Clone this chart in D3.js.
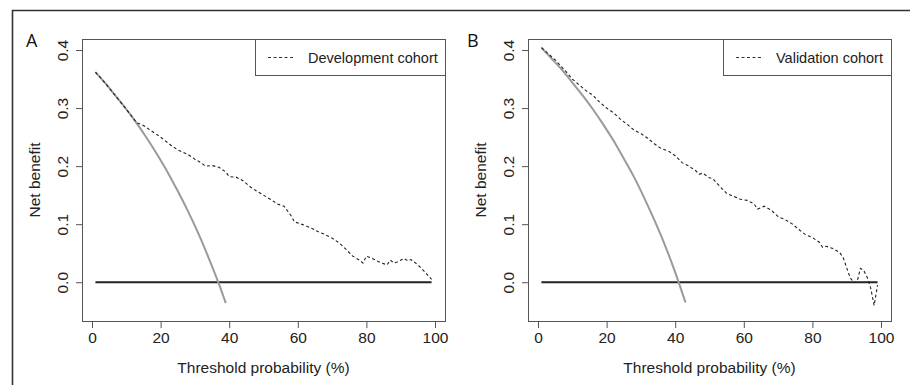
<!DOCTYPE html>
<html lang="en">
<head>
<meta charset="UTF-8">
<title>Decision curves</title>
<script src="https://cdn.jsdelivr.net/npm/d3@7"></script>
<style>
  body { margin: 0; background: #fff; }
  svg { display: block; font-family: "Liberation Sans", Arial, sans-serif; }
</style>
</head>
<body>
<div id="chart"></div>
<script>
// threshold probabilities (%) and net benefit values
const xTicks = [0, 20, 40, 60, 80, 100];
const yTicks = [0.0, 0.1, 0.2, 0.3, 0.4];

// Panel A - development cohort
const devAllX = [1, 4, 7, 10, 13, 16, 19, 22, 25, 28, 31, 34, 37, 39];
const devAllY = [0.362, 0.342, 0.320, 0.298, 0.274, 0.248, 0.220, 0.190, 0.157, 0.122, 0.084, 0.042, -0.003, -0.036];
const devModelX = [1, 4, 7, 10, 13, 15, 18, 20, 23, 25, 28, 30, 32, 33, 35, 37, 39, 40, 42, 44, 46, 48, 50, 52, 54, 56, 58, 59, 62, 64, 66, 68, 70, 72, 74, 76, 78, 79, 80, 82, 84, 86, 87, 88, 89, 91, 92, 93, 95, 97, 99];
const devModelY = [0.362, 0.342, 0.320, 0.298, 0.275, 0.270, 0.258, 0.250, 0.236, 0.228, 0.220, 0.212, 0.205, 0.200, 0.201, 0.198, 0.190, 0.182, 0.181, 0.175, 0.165, 0.157, 0.150, 0.143, 0.135, 0.131, 0.115, 0.104, 0.098, 0.093, 0.087, 0.082, 0.076, 0.068, 0.057, 0.045, 0.038, 0.033, 0.045, 0.040, 0.034, 0.030, 0.038, 0.033, 0.035, 0.041, 0.037, 0.039, 0.030, 0.018, 0.005];

// Panel B - validation cohort
const valAllX = [1, 4, 7, 10, 13, 16, 19, 22, 25, 28, 31, 34, 37, 40, 43];
const valAllY = [0.404, 0.385, 0.366, 0.344, 0.322, 0.298, 0.272, 0.244, 0.213, 0.181, 0.145, 0.106, 0.064, 0.017, -0.035];
const valModelX = [1, 5, 8, 10, 12, 14, 16, 18, 20, 22, 24, 26, 28, 30, 32, 34, 36, 38, 40, 42, 44, 46, 47, 48, 50, 51, 53, 55, 57, 59, 61, 63, 64, 66, 68, 70, 72, 74, 76, 78, 80, 82, 83, 84, 86, 88, 89, 90, 91, 92, 93, 94, 95, 96, 97, 98, 99];
const valModelY = [0.404, 0.383, 0.364, 0.350, 0.340, 0.330, 0.322, 0.310, 0.300, 0.292, 0.281, 0.272, 0.262, 0.256, 0.248, 0.238, 0.230, 0.226, 0.218, 0.206, 0.200, 0.192, 0.186, 0.188, 0.180, 0.178, 0.165, 0.153, 0.148, 0.143, 0.141, 0.135, 0.126, 0.131, 0.124, 0.113, 0.108, 0.101, 0.091, 0.082, 0.077, 0.069, 0.060, 0.062, 0.058, 0.051, 0.042, 0.025, 0.008, 0.000, 0.000, 0.024, 0.020, 0.008, -0.010, -0.040, -0.005];

const noneX = [1, 99];
const noneY = [0, 0];

const W = 910, H = 385;
const svg = d3.select("#chart").append("svg")
    .attr("width", W)
    .attr("height", H);

// outer frame (left and top edges only are visible)
svg.append("path")
    .attr("d", `M12.5,${H} V10.5 H${W}`)
    .attr("fill", "none")
    .attr("stroke", "#333")
    .attr("stroke-width", 1.6);

function zip(xs, ys) {
    return xs.map((x, i) => ({ x: x, y: ys[i] }));
}

function drawPanel(p) {
    const x = d3.scaleLinear().domain([-2.92, 102.92]).range([p.left, p.right]);
    const y = d3.scaleLinear().domain([-0.0668, 0.419]).range([321, 39]);
    const g = svg.append("g");

    // plot box
    g.append("rect")
        .attr("x", p.left + 0.5)
        .attr("y", 39.5)
        .attr("width", p.right - p.left)
        .attr("height", 321 - 39)
        .attr("fill", "none")
        .attr("stroke", "#555")
        .attr("stroke-width", 1);

    // axes
    const xAxis = g.append("g")
        .attr("transform", "translate(0,321)")
        .call(d3.axisBottom(x).tickValues(xTicks).tickSize(7).tickPadding(4).tickFormat(d3.format("d")));
    xAxis.select(".domain").remove();
    xAxis.selectAll("line").attr("stroke", "#555");
    xAxis.selectAll("text")
        .attr("font-size", "15.5px")
        .attr("font-family", "Liberation Sans, Arial, sans-serif")
        .attr("fill", "#222");

    const yAxis = g.append("g")
        .attr("transform", `translate(${p.left},0)`)
        .call(d3.axisLeft(y).tickValues(yTicks).tickSize(6).tickFormat(d3.format(".1f")));
    yAxis.select(".domain").remove();
    yAxis.selectAll("line").attr("stroke", "#555");
    yAxis.selectAll("text")
        .attr("x", null).attr("dy", null)
        .attr("transform", `translate(-14,0) rotate(-90)`)
        .attr("text-anchor", "middle")
        .attr("font-size", "15.5px")
        .attr("font-family", "Liberation Sans, Arial, sans-serif")
        .attr("fill", "#222");

    // axis titles
    g.append("text")
        .attr("x", (x(0) + x(100)) / 2)
        .attr("y", 373)
        .attr("text-anchor", "middle")
        .attr("font-size", "15.5px")
        .attr("fill", "#222")
        .text("Threshold probability (%)");
    g.append("text")
        .attr("transform", `translate(${p.left - 42},180) rotate(-90)`)
        .attr("text-anchor", "middle")
        .attr("font-size", "15.5px")
        .attr("fill", "#222")
        .text("Net benefit");

    // panel letter
    g.append("text")
        .attr("x", p.letterX)
        .attr("y", 47)
        .attr("font-size", "18px")
        .attr("font-family", "Open Sans, Liberation Sans, sans-serif")
        .attr("fill", "#111")
        .text(p.letter);

    const line = d3.line().x(d => x(d.x)).y(d => y(d.y));
    const smooth = d3.line().x(d => x(d.x)).y(d => y(d.y)).curve(d3.curveMonotoneX);

    // treat none
    g.append("path")
        .datum(zip(noneX, noneY))
        .attr("d", line)
        .attr("fill", "none")
        .attr("stroke", "#222")
        .attr("stroke-width", 2);

    // treat all
    g.append("path")
        .datum(zip(p.allX, p.allY))
        .attr("d", smooth)
        .attr("fill", "none")
        .attr("stroke", "#9a9a9a")
        .attr("stroke-width", 2);

    // model
    g.append("path")
        .datum(zip(p.modelX, p.modelY))
        .attr("d", line)
        .attr("fill", "none")
        .attr("stroke", "#222")
        .attr("stroke-width", 1.1)
        .attr("stroke-dasharray", "3,2.5");

    // legend
    g.append("rect")
        .attr("x", p.legLeft + 0.5)
        .attr("y", 39.5)
        .attr("width", p.right - p.legLeft)
        .attr("height", 36)
        .attr("fill", "#fff")
        .attr("stroke", "#555")
        .attr("stroke-width", 1);
    g.append("line")
        .attr("x1", p.legLeft + 13).attr("x2", p.legLeft + 40)
        .attr("y1", 57.5).attr("y2", 57.5)
        .attr("stroke", "#333")
        .attr("stroke-width", 1)
        .attr("stroke-dasharray", "3,2.5");
    g.append("text")
        .attr("x", p.legLeft + 53)
        .attr("y", 63)
        .attr("font-size", "14.5px")
        .attr("fill", "#222")
        .text(p.label);
}

drawPanel({
    left: 82, right: 445, legLeft: 255, letter: "A", letterX: 26,
    label: "Development cohort",
    allX: devAllX, allY: devAllY, modelX: devModelX, modelY: devModelY
});
drawPanel({
    left: 528, right: 891, legLeft: 723, letter: "B", letterX: 467,
    label: "Validation cohort",
    allX: valAllX, allY: valAllY, modelX: valModelX, modelY: valModelY
});
</script>
</body>
</html>
